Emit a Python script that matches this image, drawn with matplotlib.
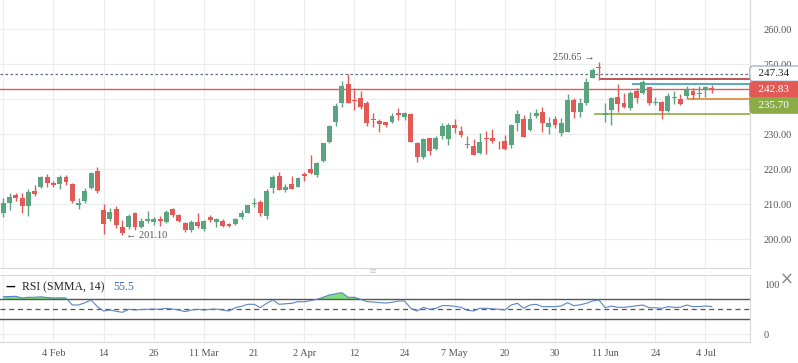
import numpy as np
import matplotlib
matplotlib.use('Agg')
import matplotlib.pyplot as plt

# candles: open, high, low, close (one row per session)
opens = [207.6, 210.5, 212.7, 211.9, 209.6, 213.8, 215.0, 217.9, 216.2, 215.8,
         217.9, 215.8, 209.9, 210.9, 214.6, 219.5, 208.4, 205.7, 208.6, 203.6,
         203.6, 207.6, 203.6, 205.2, 205.0, 205.7, 205.0, 208.6, 206.9, 204.6,
         202.7, 204.9, 202.9, 206.5, 204.9, 205.3, 204.3, 204.3, 206.5, 207.6,
         210.1, 210.7, 206.7, 214.6, 218.1, 214.1, 215.8, 215.0, 218.7, 220.0,
         218.4, 222.5, 227.9, 233.6, 239.0, 244.4, 239.8, 240.3, 239.0, 234.3,
         233.8, 233.4, 233.4, 236.2, 235.0, 235.7, 227.6, 223.6, 228.9, 225.8,
         229.5, 228.7, 232.7, 230.9, 226.9, 226.7, 224.7, 228.9, 229.0, 227.0,
         228.1, 226.9, 233.1, 234.3, 231.2, 235.2, 236.5, 232.2, 234.4, 230.5,
         230.7, 239.8, 236.3, 238.9, 246.2, 249.3, 235.6, 237.0, 240.7, 239.0,
         237.4, 242.5, 241.9, 243.5, 238.9, 239.3, 236.7, 240.4, 240.0, 241.0,
         242.5, 241.4, 242.8, 243.2]
highs = [211.7, 213.1, 213.3, 213.3, 214.3, 215.5, 218.2, 218.7, 216.7, 218.4,
         218.4, 216.2, 211.7, 214.6, 219.1, 220.7, 210.0, 208.9, 209.6, 205.5,
         207.1, 207.9, 206.0, 208.2, 206.5, 206.7, 208.4, 208.9, 207.3, 204.9,
         205.5, 207.4, 205.6, 206.9, 206.0, 205.7, 204.6, 206.0, 208.4, 209.9,
         211.7, 211.2, 214.3, 218.4, 219.1, 215.8, 218.1, 217.9, 219.3, 224.1,
         222.0, 227.6, 232.6, 238.9, 245.2, 247.34, 243.1, 242.4, 239.6, 236.0,
         234.3, 233.6, 236.0, 237.4, 236.3, 236.0, 227.7, 228.9, 229.0, 229.6,
         233.1, 233.1, 234.3, 232.4, 229.5, 228.6, 230.5, 231.0, 231.4, 228.1,
         229.8, 232.9, 236.9, 235.5, 236.5, 237.1, 237.7, 235.0, 235.2, 234.6,
         241.5, 240.5, 240.5, 246.2, 249.0, 250.65, 238.9, 240.7, 244.3, 241.7,
         242.3, 243.2, 245.6, 243.6, 240.7, 239.6, 241.9, 242.5, 241.6, 243.8,
         243.2, 243.8, 243.8, 244.1]
lows = [206.5, 208.4, 211.0, 207.6, 206.7, 212.5, 214.7, 215.0, 215.0, 214.5,
        215.6, 210.5, 208.7, 210.5, 214.3, 213.1, 201.5, 205.2, 203.1, 201.1,
        202.9, 202.7, 203.3, 204.6, 204.1, 203.9, 204.6, 206.5, 205.0, 202.0,
        202.2, 203.1, 202.3, 204.9, 203.6, 203.4, 203.6, 204.1, 205.9, 207.4,
        209.3, 206.7, 205.7, 213.1, 214.0, 213.6, 214.3, 214.8, 216.7, 218.7,
        217.9, 222.0, 227.6, 232.4, 237.9, 238.9, 236.9, 237.1, 232.4, 232.2,
        230.7, 232.0, 233.1, 234.1, 234.0, 227.8, 222.2, 222.9, 224.1, 225.6,
        228.6, 226.9, 230.3, 229.3, 226.0, 224.0, 224.4, 224.4, 227.6, 225.8,
        225.5, 226.2, 230.9, 229.2, 231.0, 234.6, 230.7, 230.1, 231.9, 229.6,
        230.6, 234.7, 235.0, 238.4, 246.0, 245.5, 233.5, 232.6, 236.5, 237.4,
        236.9, 238.9, 241.6, 238.4, 238.4, 234.3, 236.5, 238.7, 238.4, 240.0,
        240.1, 240.3, 240.7, 241.7]
closes = [210.5, 212.0, 211.9, 209.6, 213.4, 212.9, 217.9, 216.2, 215.5, 217.9,
          216.4, 211.0, 210.4, 213.8, 218.9, 213.8, 204.4, 207.9, 204.1, 201.9,
          206.7, 203.4, 205.2, 205.7, 205.7, 205.2, 207.7, 206.9, 205.3, 202.7,
          204.9, 203.9, 205.2, 205.5, 205.8, 203.8, 203.8, 205.8, 207.6, 209.8,
          210.5, 207.6, 213.9, 217.7, 214.1, 215.0, 214.4, 217.4, 218.2, 219.0,
          221.7, 227.4, 232.4, 238.1, 243.8, 239.0, 239.5, 237.9, 233.3, 234.1,
          232.9, 232.7, 235.2, 235.5, 236.2, 227.9, 223.4, 228.6, 225.3, 228.9,
          232.4, 232.7, 231.7, 229.8, 226.9, 224.1, 227.9, 228.7, 228.1, 226.8,
          225.8, 232.7, 235.7, 229.3, 234.4, 236.2, 233.3, 233.1, 232.7, 233.1,
          239.8, 236.3, 238.9, 244.9, 248.4, 249.0, 236.2, 240.5, 238.7, 237.7,
          241.9, 240.5, 244.9, 239.0, 239.1, 236.6, 241.0, 240.7, 238.7, 242.7,
          241.2, 241.7, 243.5, 242.83]

rsi = [75, 75.5, 76, 72.6, 74, 74, 75, 73.5, 72.6, 73,
       72.6, 58.6, 58.6, 63, 68.6, 55.3, 46.6, 48.6, 46, 44,
       50, 48.6, 49.5, 50, 50.5, 50, 52, 50.5, 48.6, 45.3,
       48.5, 50, 48.5, 50, 50.5, 48.5, 46.6, 53.3, 56, 60,
       60, 53.3, 62, 68.6, 60, 61, 62, 65.3, 65, 67.3,
       70, 74, 78.6, 81, 83.3, 74, 74, 70, 65.3, 64.5,
       63.3, 62.5, 64, 66.6, 66.6, 52, 46.6, 54, 50, 52,
       57.3, 57.3, 56, 54, 48, 46.6, 52, 52, 51, 50,
       48.6, 58.6, 62, 52, 58.6, 60, 55.3, 55.3, 55.3, 56.6,
       63.3, 57.3, 59, 62, 66.6, 68.6, 53.3, 56.6, 54, 54,
       55.3, 57, 58.6, 53.3, 53, 52, 55.3, 54, 54, 58.6,
       55.3, 55.5, 56.6, 55.5]

date_labels = ['4 Feb', '14', '26', '11 Mar', '21', '2 Apr', '12', '24',
               '7 May', '20', '30', '11 Jun', '24', '4 Jul']
price_ticks = [200, 210, 220, 230, 240, 250, 260]

# horizontal levels drawn on the chart
prev_high = 247.34
last_close = 242.83
lvl_dark = 245.7
lvl_teal = 244.3
lvl_orange = 240.08
lvl_green = 235.70

GREEN = '#5aa57f'
RED = '#e25a55'
GRID = '#ececec'
TXT = '#555555'
SERIF = ['Liberation Serif', 'DejaVu Serif']

W, H = 798, 363
fig = plt.figure(figsize=(W / 100, H / 100), dpi=100)
ax = fig.add_axes([0, 1 - 268 / H, 750 / W, 268 / H])
ax2 = fig.add_axes([0, 1 - 342 / H, 750 / W, 67 / H])

n = len(closes)
x = np.arange(n)
o = np.array(opens); c = np.array(closes)
hi = np.array(highs); lo = np.array(lows)
col = np.where(c >= o, GREEN, RED).astype(object)
col[74] = '#8c8c8c'
body = np.maximum(np.abs(c - o), 0.25)
bot = np.minimum(o, c)
ax.vlines(x, lo, hi, color=list(col), lw=1.0, zorder=3)
ax.bar(x, body, bottom=bot, width=0.78, color=list(col), zorder=4, linewidth=0)

xmin, xmax = -0.53, 119.1
tick_idx = list(range(0, 113, 8))
for a in (ax, ax2):
    a.set_xlim(xmin, xmax)
    for t in tick_idx:
        a.axvline(t, color=GRID, lw=0.8, zorder=0)
    for s in ('left', 'top'):
        a.spines[s].set_visible(False)
    for s in ('right', 'bottom'):
        a.spines[s].set_color('#d8d8d8')
    a.yaxis.tick_right()
    a.tick_params(axis='y', length=0, pad=10, labelsize=7.5, labelcolor=TXT)
    a.set_facecolor('white')

ax.set_ylim(191.8, 268.37)
for p in price_ticks:
    ax.axhline(p, color=GRID, lw=0.8, zorder=0)
ax.set_yticks(price_ticks)
ax.set_yticklabels(['%.2f' % p for p in price_ticks], family=SERIF)
ax.set_xticks([])

# level lines
ax.axhline(prev_high, color='#5d6d7e', lw=0.9, ls=(0, (2, 2)), zorder=2)
ax.axhline(last_close, color=RED, lw=1.0, zorder=2)
ax.hlines(lvl_dark, 95, xmax, color='#b23a3a', lw=1.2, zorder=2)
ax.hlines(lvl_teal, 100.3, xmax, color='#3a9bb5', lw=1.2, zorder=2)
ax.hlines(lvl_orange, 109.2, xmax, color='#e0843a', lw=1.2, zorder=2)
ax.hlines(lvl_green, 94.2, xmax, color='#8aab45', lw=1.2, zorder=2)

# extremes
ax.text(94.3, 250.65, '250.65 \u2192', ha='right', va='bottom', fontsize=7.5,
        color=TXT, family=SERIF)
ax.text(19.6, 201.1, '\u2190 201.10', ha='left', va='center', fontsize=7.5,
        color=TXT, family=SERIF)

# price boxes on the right axis (stacked, they overlap like in the app)
ytr = ax.get_yaxis_transform()
boxes = [(prev_high, '247.34', 'white', '#222222', '#8fa3b8', 5),
         (240.3, '240.08', '#e0843a', 'white', '#e0843a', 5),
         (last_close, '242.83', RED, 'white', RED, 6),
         (238.2, '235.70', '#8aab45', 'white', '#8aab45', 7)]
for yv, s, fc, tc, ec, z in boxes:
    ax.text(1.004, yv, '  ' + s + '     ', transform=ytr, ha='left', va='center',
            fontsize=8, color=tc, family=SERIF, clip_on=False, zorder=z,
            bbox=dict(boxstyle='round,pad=0.28,rounding_size=0.3', fc=fc, ec=ec, lw=0.8))

# RSI pane
ax2.set_ylim(-15.4, 118.6)
ax2.spines['top'].set_visible(True)
ax2.spines['top'].set_color('#d8d8d8')
ax2.axhline(0, color=GRID, lw=0.8, zorder=0)
ax2.axhline(70, color='#555555', lw=1.0)
ax2.axhline(30, color='#555555', lw=1.0)
ax2.axhline(50, color='#555555', lw=0.9, ls=(0, (4, 3)))
r = np.array(rsi)
ax2.fill_between(x, r, 70, where=r > 70, interpolate=True, color='#7ee07e', lw=0)
ax2.plot(x, r, color='#5b84c4', lw=0.8)
ax2.set_yticks([0, 100])
ax2.set_yticklabels(['0', '100'], family=SERIF)
ax2.set_xticks(tick_idx[1:])
ax2.set_xticklabels(date_labels, family=SERIF)
ax2.tick_params(axis='x', length=0, pad=5, labelsize=7.5, labelcolor=TXT)

fig.text(6 / W, 1 - 287 / H, '\u2014', fontsize=7, color='black', va='center', weight='bold')
fig.text(22 / W, 1 - 287 / H, 'RSI (SMMA, 14)', fontsize=8.5, color='#222222',
         va='center', family=SERIF)
fig.text(113 / W, 1 - 287 / H, '55.5', fontsize=8.5, color='#3b6bb0',
         va='center', family=SERIF)
fig.text(373 / W, 1 - 271 / H, '\u2261', fontsize=7, color='#cccccc', ha='center', va='center')
fig.text(787 / W, 1 - 280 / H, '\u00d7', fontsize=12, color='#888888', ha='center', va='center')

fig.savefig('out.png', dpi=100, facecolor='white')
